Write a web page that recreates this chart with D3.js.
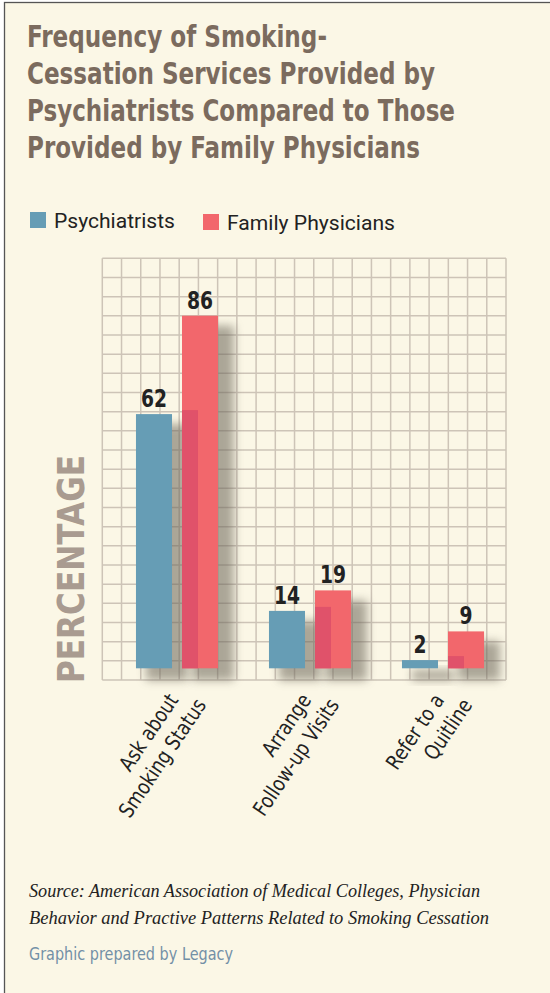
<!DOCTYPE html>
<html>
<head>
<meta charset="utf-8">
<script src="https://cdn.jsdelivr.net/npm/d3@7"></script>
<style>
  html, body { margin: 0; padding: 0; background: #ffffff; }
  svg { display: block; }
</style>
</head>
<body>
<svg id="chart" width="550" height="993"></svg>
<script>
// ---- data ----
const titleLines = ["Frequency of Smoking-", "Cessation Services Provided by", "Psychiatrists Compared to Those", "Provided by Family Physicians"];
const categoryLines = [["Ask about", "Smoking Status"], ["Arrange", "Follow-up Visits"], ["Refer to a", "Quitline"]];
const categories = categoryLines.map(l => l.join(" "));
const seriesNames = ["Psychiatrists", "Family Physicians"];
const psychiatrists = [62, 14, 2];
const familyPhysicians = [86, 19, 9];
const yLabel = "PERCENTAGE";
const sourceLines = ["Source: American Association of Medical Colleges, Physician", "Behavior and Practive Patterns Related to Smoking Cessation"];
const credit = "Graphic prepared by Legacy";

const colors = { "Psychiatrists": "#669db5", "Family Physicians": "#f2676c" };

const svg = d3.select("#chart");
const defs = svg.append("defs");
defs.append("filter").attr("id", "blur").attr("x", "-50%").attr("y", "-50%").attr("width", "200%").attr("height", "200%")
  .append("feGaussianBlur").attr("stdDeviation", 5);

// panel
svg.append("rect").attr("x", 4.5).attr("y", 2.5).attr("width", 560).attr("height", 1000)
  .attr("fill", "#fbf7e6").attr("stroke", "#555").attr("stroke-width", 1.3);

const condensed = "'Liberation Sans Narrow', 'DejaVu Sans Condensed', sans-serif";

// title
const titleWidths = [300, 408, 428, 393];
svg.append("g").selectAll("text").data(titleLines).join("text")
  .attr("x", 27).attr("y", (d, i) => 47 + i * 37)
  .attr("font-family", condensed)
  .attr("font-weight", "bold").attr("font-size", 30).attr("fill", "#7b6b5e")
  .attr("textLength", (d, i) => titleWidths[i]).attr("lengthAdjust", "spacingAndGlyphs")
  .text(d => d);

// legend
const legendX = [30, 203];
const legendW = [121, 168];
const lg = svg.append("g").selectAll("g").data(seriesNames).join("g")
  .attr("transform", (d, i) => `translate(${legendX[i]},${i === 0 ? 212 : 214})`);
lg.append("rect").attr("width", 16).attr("height", 16).attr("fill", d => colors[d]);
lg.append("text").attr("x", 24).attr("y", 15.5)
  .attr("font-family", "Roboto, 'Liberation Sans', sans-serif").attr("font-size", 21).attr("fill", "#222")
  .attr("textLength", (d, i) => legendW[i]).attr("lengthAdjust", "spacingAndGlyphs")
  .text(d => d);

// scales
const gridLeft = 102.3, gridRight = 506, gridTop = 258.3, gridBottom = 680;
const baseline = 668.3;
const y = d3.scaleLinear().domain([0, 100]).range([baseline, gridTop]);
const x0 = d3.scaleBand().domain(categories).range([110.5, 509.5]).paddingInner(0.383).paddingOuter(0.1915);
const x1 = d3.scaleBand().domain(seriesNames).range([0, x0.bandwidth()]).paddingInner(0.217).paddingOuter(0);

// grid
const grid = svg.append("g").attr("stroke", "#cdc4b7").attr("stroke-width", 1.5);
const cols = 21, rows = 22;
d3.range(cols + 1).forEach(i => {
  const xx = gridLeft + i * (gridRight - gridLeft) / cols;
  grid.append("line").attr("x1", xx).attr("x2", xx).attr("y1", gridTop).attr("y2", gridBottom);
});
d3.range(rows + 1).forEach(i => {
  const yy = gridTop + i * (gridBottom - gridTop) / rows;
  grid.append("line").attr("x1", gridLeft).attr("x2", gridRight).attr("y1", yy).attr("y2", yy);
});

// data rows
const rowsData = categories.map((c, i) => ({
  cat: c,
  values: [{ s: seriesNames[0], v: psychiatrists[i] }, { s: seriesNames[1], v: familyPhysicians[i] }]
}));

const groups = svg.append("g").selectAll("g").data(rowsData).join("g")
  .attr("transform", d => `translate(${x0(d.cat)},0)`);

// shadows
groups.selectAll("rect.shadow").data(d => d.values).join("rect").attr("class", "shadow")
  .attr("x", d => x1(d.s) + 10).attr("y", d => y(d.v) + 10)
  .attr("width", x1.bandwidth() + 6).attr("height", d => baseline - y(d.v) + 2)
  .attr("fill", "#6b6558").attr("opacity", 0.55).attr("filter", "url(#blur)");

// bars
groups.selectAll("rect.bar").data(d => d.values).join("rect").attr("class", "bar")
  .attr("x", d => x1(d.s)).attr("y", d => y(d.v))
  .attr("width", x1.bandwidth()).attr("height", d => baseline - y(d.v))
  .attr("fill", d => colors[d.s]);

// cast shadow of psychiatrist bar onto family bar
groups.append("rect")
  .attr("x", x1(seriesNames[1]))
  .attr("y", d => y(d.values[0].v) - 4)
  .attr("width", 16)
  .attr("height", d => baseline - y(d.values[0].v) + 4)
  .attr("fill", "#e0526a");

// value labels
groups.selectAll("text.val").data(d => d.values).join("text").attr("class", "val")
  .attr("x", d => x1(d.s) + x1.bandwidth() / 2).attr("y", d => y(d.v) - 7)
  .attr("text-anchor", "middle")
  .attr("font-family", condensed)
  .attr("font-weight", "bold").attr("font-size", 24).attr("fill", "#222")
  .attr("textLength", d => String(d.v).length * 13).attr("lengthAdjust", "spacingAndGlyphs")
  .text(d => d.v);

// category labels
const cl = svg.append("g").selectAll("g").data(categoryLines).join("g")
  .attr("transform", (d, i) => `translate(${x0(categories[i]) + x0.bandwidth() / 2 + 2},700) rotate(-56)`);
cl.selectAll("text").data(d => d).join("text")
  .attr("x", (d, i) => i * 11.5).attr("y", (d, i) => i * 26)
  .attr("text-anchor", "end")
  .attr("font-family", condensed)
  .attr("font-size", 21).attr("fill", "#222")
  .text(d => d)
  .each(function () {
    const len = this.getComputedTextLength();
    d3.select(this).attr("textLength", len * 0.93).attr("lengthAdjust", "spacingAndGlyphs");
  });

// y label
svg.append("text")
  .attr("transform", "translate(84,683) rotate(-90)")
  .attr("font-family", "'DejaVu Sans', 'Liberation Sans', sans-serif")
  .attr("font-weight", "bold").attr("font-size", 38).attr("fill", "#a99b90")
  .attr("textLength", 228).attr("lengthAdjust", "spacingAndGlyphs")
  .text(yLabel);

// source
const srcW = [451, 460];
svg.append("g").selectAll("text").data(sourceLines).join("text")
  .attr("x", 29).attr("y", (d, i) => 897 + i * 27)
  .attr("font-family", "'Liberation Serif', 'DejaVu Serif', serif")
  .attr("font-style", "italic").attr("font-size", 19).attr("fill", "#222")
  .attr("textLength", (d, i) => srcW[i]).attr("lengthAdjust", "spacingAndGlyphs")
  .text(d => d);

svg.append("text").attr("x", 29).attr("y", 960)
  .attr("font-family", "'DejaVu Sans', 'Open Sans', sans-serif").attr("font-size", 17).attr("fill", "#7390a6")
  .attr("textLength", 204).attr("lengthAdjust", "spacingAndGlyphs")
  .text(credit);
</script>
</body>
</html>
